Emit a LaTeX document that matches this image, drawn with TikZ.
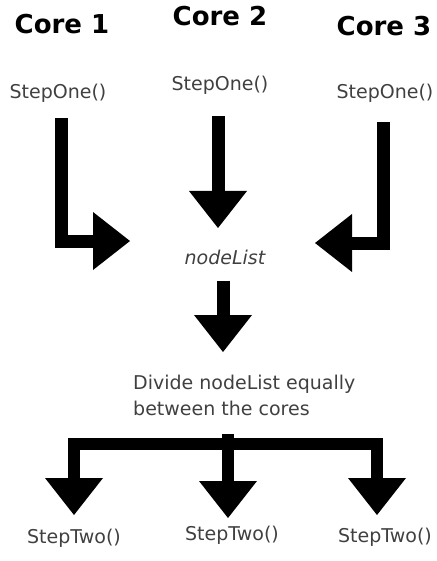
\documentclass[tikz,border=0pt]{standalone}
\usepackage{fontspec}
\setmainfont{DejaVu Sans}
\usetikzlibrary{arrows.meta,positioning}

\begin{document}
\begin{tikzpicture}[x=1pt,y=-1pt,
	core/.style={font=\fontsize{26}{30}\selectfont\bfseries,inner sep=0pt},
	func/.style={font=\fontsize{19}{26}\selectfont,text=black!75,inner sep=0pt},
	blk/.style={line width=13pt,line join=miter,
		-{Triangle[width=58pt,length=37pt,line width=0pt]}},
	fork/.style={blk,line width=12pt}]
	\useasboundingbox (0,0) rectangle (436,561);
	%
	\node[core] (core1) at (62,24) {Core 1};
	\node[core] (core2) at (220,16) {Core 2};
	\node[core] (core3) at (384,26) {Core 3};
	
	% first step on every core
	\node[func] (one1) at (58,93) {StepOne()};
	\node[func] (one2) at (220,85) {StepOne()};
	\node[func] (one3) at (385,93) {StepOne()};
	\node[func,font=\fontsize{19}{26}\selectfont\itshape] (list) at (225,257) {nodeList};
	\node[func,align=left,anchor=north west] (split) at (133,375) {Divide nodeList equally\\between the cores};
	
	% second step
	\node[func] (two1) at (74,538) {StepTwo()};
	\node[func] (two2) at (232,535) {StepTwo()};
	\node[func] (two3) at (385,537) {StepTwo()};
	
	\coordinate (in1) at (130,241);
	\coordinate (in2) at (218,228);
	\coordinate (in3) at (315,243);
	\coordinate (down) at (223,352);
	\coordinate (top) at (228,434);
	\coordinate (out1) at (74,515);
	\coordinate (out2) at (228,518);
	\coordinate (out3) at (377,515);
	
	% gather
	\draw[blk] ([xshift=3pt,yshift=-16pt]one1.south) |- (in1);
	\draw[blk] ([yshift=-22pt]in2 |- one2.south) -- (in2);
	\draw[blk] ([xshift=-1.5pt,yshift=-20pt]one3.south) |- (in3);
	\draw[blk] ([yshift=-16pt]down |- list.south) -- (down);
	% scatter
	\draw[fork] (top) -- (out2);
	\draw[fork] ([yshift=-10pt]top) -| (out1);
	\draw[fork] ([yshift=-10pt]top) -| (out3);
\end{tikzpicture}
\end{document}
